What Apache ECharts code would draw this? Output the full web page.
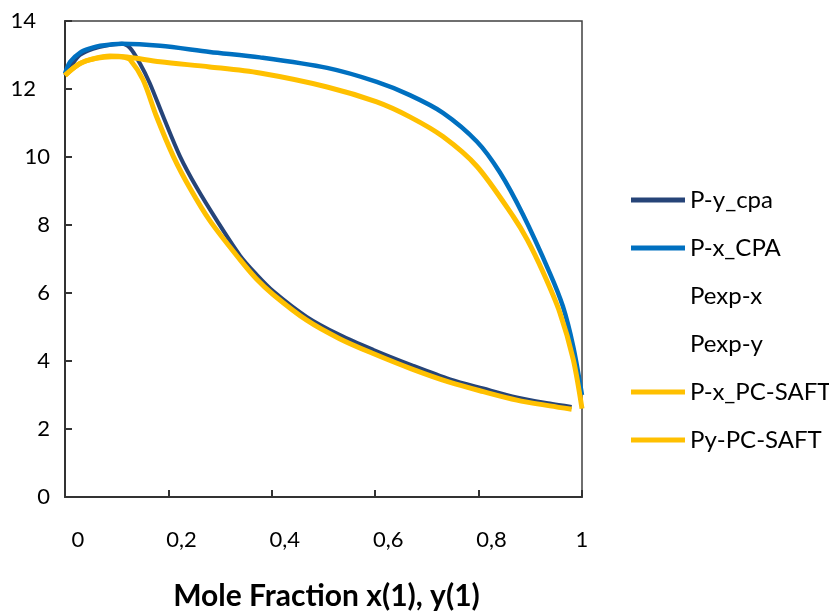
<!DOCTYPE html>
<html>
<head>
<meta charset="utf-8">
<script src="https://cdn.jsdelivr.net/npm/echarts@6/dist/echarts.min.js"></script>
<style>
  html, body { margin: 0; padding: 0; background: #fff; }
  #chart { width: 829px; height: 616px; }
</style>
</head>
<body>
<div id="chart"></div>
<script>
// values
const xTicks = [0, 0.2, 0.4, 0.6, 0.8, 1]
const yTicks = [0, 2, 4, 6, 8, 10, 12, 14]

const pyCpaX = [0, 0.015, 0.029, 0.054, 0.08, 0.11, 0.126, 0.145, 0.164, 0.19, 0.2224, 0.2547, 0.293, 0.3385, 0.37, 0.403, 0.4675, 0.532, 0.596, 0.67, 0.745, 0.809, 0.874, 0.938, 0.98]
const pyCpaY = [12.4, 12.75, 13.0, 13.18, 13.28, 13.33, 13.2, 12.75, 12.17, 11.19, 10.02, 9.1, 8.15, 7.1, 6.55, 6.05, 5.3, 4.76, 4.33, 3.88, 3.46, 3.19, 2.93, 2.75, 2.65]

const pxCpaX = [0, 0.01, 0.03, 0.05, 0.068, 0.11, 0.184, 0.28, 0.377, 0.507, 0.603, 0.667, 0.731, 0.797, 0.841, 0.886, 0.938, 0.963, 0.983, 1.0]
const pxCpaY = [12.45, 12.8, 13.08, 13.2, 13.27, 13.33, 13.27, 13.09, 12.93, 12.62, 12.21, 11.82, 11.3, 10.45, 9.55, 8.3, 6.58, 5.61, 4.43, 3.0]

const pxSaftX = [0, 0.015, 0.029, 0.05, 0.087, 0.12, 0.184, 0.28, 0.377, 0.507, 0.603, 0.667, 0.731, 0.797, 0.867, 0.894, 0.925, 0.957, 0.983, 1.0]
const pxSaftY = [12.4, 12.6, 12.75, 12.87, 12.97, 12.94, 12.8, 12.65, 12.47, 12.06, 11.62, 11.18, 10.6, 9.72, 8.25, 7.57, 6.6, 5.43, 4.05, 2.6]

const pySaftX = [0, 0.029, 0.06, 0.09, 0.105, 0.115, 0.126, 0.151, 0.177, 0.2095, 0.2418, 0.2805, 0.3385, 0.37, 0.403, 0.4675, 0.532, 0.596, 0.67, 0.745, 0.809, 0.874, 0.938, 0.98]
const pySaftY = [12.4, 12.75, 12.9, 12.95, 12.95, 12.93, 12.86, 12.27, 11.19, 10.02, 9.08, 8.12, 6.98, 6.42, 5.95, 5.2, 4.65, 4.22, 3.77, 3.37, 3.1, 2.85, 2.68, 2.58]

const seriesNames = ['P-y_cpa', 'P-x_CPA', 'Pexp-x', 'Pexp-y', 'P-x_PC-SAFT', 'Py-PC-SAFT']

const FONT = 'Lato, "Open Sans", sans-serif'
const zip = (xs, ys) => xs.map((x, i) => [x, ys[i]])

const chart = echarts.init(document.getElementById('chart'))

function curve(name, xs, ys, color, width) {
  return {
    name,
    type: 'line',
    data: zip(xs, ys),
    smooth: 0.3,
    symbol: 'none',
    lineStyle: { color, width },
    itemStyle: { color },
  }
}

chart.setOption({
  animation: false,
  backgroundColor: '#fff',
  textStyle: { fontFamily: FONT },
  grid: {
    left: 65, right: 247, top: 21, bottom: 118,
    show: true, borderColor: '#404040', borderWidth: 1.5,
  },
  legend: {
    orient: 'vertical',
    left: 626,
    top: 183,
    icon: 'rect',
    itemWidth: 54,
    itemHeight: 5,
    itemGap: 24,
    textStyle: { fontFamily: FONT, fontSize: 24, color: '#000', lineHeight: 24 },
    data: [
      { name: 'P-y_cpa' },
      { name: 'P-x_CPA' },
      { name: 'Pexp-x', itemStyle: { color: 'rgba(0,0,0,0)' } },
      { name: 'Pexp-y', itemStyle: { color: 'rgba(0,0,0,0)' } },
      { name: 'P-x_PC-SAFT' },
      { name: 'Py-PC-SAFT' },
    ],
  },
  xAxis: {
    type: 'value',
    min: xTicks[0],
    max: xTicks[xTicks.length - 1],
    interval: 0.2,
    name: 'Mole Fraction x(1), y(1)',
    nameLocation: 'middle',
    nameGap: 84,
    nameTextStyle: { fontFamily: FONT, fontSize: 30, fontWeight: 'bold', color: '#000', padding: [0, 0, 0, 6] },
    axisLine: { lineStyle: { color: '#333', width: 2 } },
    axisTick: { inside: true, length: 7, lineStyle: { color: '#333', width: 2 } },
    splitLine: { show: false },
    axisLabel: {
      margin: 32,
      color: '#000',
      formatter: v => (v === 1 ? '{b|1}' : '{a|' + String(+v.toFixed(1)).replace('.', ',') + '}'),
      rich: {
        a: { fontFamily: FONT, fontSize: 22, color: '#000', padding: [0, 0, 0, 26] },
        b: { fontFamily: FONT, fontSize: 22, color: '#000' },
      },
    },
  },
  yAxis: {
    type: 'value',
    min: yTicks[0],
    max: yTicks[yTicks.length - 1],
    interval: 2,
    axisLine: { show: true, lineStyle: { color: '#333', width: 2 } },
    axisTick: { show: true, inside: true, length: 7, lineStyle: { color: '#333', width: 2 } },
    splitLine: { show: false },
    axisLabel: {
      margin: 15,
      color: '#000',
      formatter: v => (v >= 12 ? '{b|' + v + '}' : '{a|' + v + '}'),
      rich: {
        a: { fontFamily: FONT, fontSize: 22, color: '#000' },
        b: { fontFamily: FONT, fontSize: 22, color: '#000', padding: [0, 14, 0, 0] },
      },
    },
  },
  series: [
    curve(seriesNames[0], pyCpaX, pyCpaY, '#264478', 4),
    curve(seriesNames[1], pxCpaX, pxCpaY, '#0070C0', 4.5),
    { name: seriesNames[2], type: 'line', data: [], symbol: 'none', itemStyle: { color: 'rgba(0,0,0,0)' } },
    { name: seriesNames[3], type: 'line', data: [], symbol: 'none', itemStyle: { color: 'rgba(0,0,0,0)' } },
    curve(seriesNames[4], pxSaftX, pxSaftY, '#FFC000', 5),
    curve(seriesNames[5], pySaftX, pySaftY, '#FFC000', 5),
  ],
})
</script>
</body>
</html>
